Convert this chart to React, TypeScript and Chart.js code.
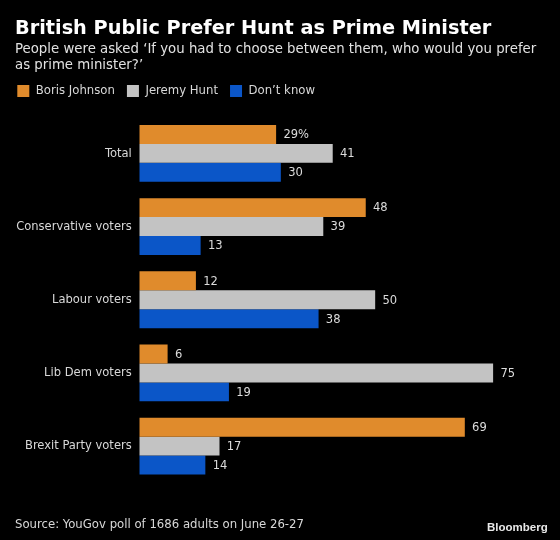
import React, { useEffect, useRef } from 'react';
import { Chart, registerables } from 'chart.js';

Chart.register(...registerables);

const titleText = 'British Public Prefer Hunt as Prime Minister';
const subtitleLines = [
  'People were asked ‘If you had to choose between them, who would you prefer',
  'as prime minister?’',
];
const sourceText = 'Source: YouGov poll of 1686 adults on June 26-27';
const brandText = 'Bloomberg';

const categories = ['Total', 'Conservative voters', 'Labour voters', 'Lib Dem voters', 'Brexit Party voters'];
const seriesNames = ['Boris Johnson', 'Jeremy Hunt', 'Don’t know'];
const borisJohnson = [29, 48, 12, 6, 69];
const jeremyHunt = [41, 39, 50, 75, 17];
const dontKnow = [30, 13, 38, 19, 14];
const seriesColors = ['#E08B2C', '#C3C3C3', '#0B56C8'];
const firstLabelSuffix = '%';

const condensed = "'DejaVu Sans Condensed', 'DejaVu Sans', sans-serif";

export default function App() {
  const ref = useRef<HTMLCanvasElement | null>(null);

  useEffect(() => {
    document.body.style.margin = '0';
    document.body.style.background = '#000';
    const canvas = ref.current;
    if (!canvas) return;

    const valueLabels = {
      id: 'valueLabels',
      afterDatasetsDraw(chart: any) {
        const ctx = chart.ctx;
        ctx.save();
        ctx.font = `12.8px ${condensed}`;
        ctx.fillStyle = '#dcdcdc';
        ctx.textAlign = 'left';
        ctx.textBaseline = 'middle';
        chart.data.datasets.forEach((ds: any, di: number) => {
          const meta = chart.getDatasetMeta(di);
          meta.data.forEach((bar: any, i: number) => {
            const v = ds.data[i];
            const txt = String(v) + (di === 0 && i === 0 ? firstLabelSuffix : '');
            ctx.fillText(txt, bar.x + 7.3, bar.y + 0.5);
          });
        });
        ctx.restore();
      },
    };

    const legendGap = {
      id: 'legendGap',
      beforeLayout(chart: any) {
        const lg = chart.legend;
        if (lg && !lg._gapPatched) {
          const orig = lg.fit;
          lg.fit = function () {
            orig.call(this);
            this.height += 9.3;
          };
          lg._gapPatched = true;
        }
      },
    };

    const chart = new Chart(canvas, {
      type: 'bar',
      data: {
        labels: categories,
        datasets: [
          { label: seriesNames[0], data: borisJohnson, backgroundColor: seriesColors[0] },
          { label: seriesNames[1], data: jeremyHunt, backgroundColor: seriesColors[1] },
          { label: seriesNames[2], data: dontKnow, backgroundColor: seriesColors[2] },
        ],
      },
      options: {
        indexAxis: 'y',
        responsive: false,
        animation: false,
        devicePixelRatio: 1,
        datasets: { bar: { categoryPercentage: 0.777, barPercentage: 1, borderWidth: 0 } },
        layout: { padding: { left: 5.3, right: 43.3, top: 72.5, bottom: 57.3 } },
        plugins: {
          title: { display: false },
          tooltip: { enabled: false },
          legend: {
            display: true,
            position: 'top',
            align: 'start',
            labels: {
              boxWidth: 12,
              boxHeight: 12,
              padding: 12,
              color: '#d8d8d8',
              font: { family: condensed, size: 13 },
            },
          },
        },
        scales: {
          x: {
            display: false,
            min: 0,
            max: 80,
          },
          y: {
            display: true,
            grid: { display: false, drawTicks: false },
            border: { display: false },
            ticks: {
              color: '#d8d8d8',
              padding: 7.6,
              font: { family: condensed, size: 12.8 },
            },
            afterFit(scale: any) {
              scale.width = 134;
            },
          },
        },
      },
      plugins: [valueLabels, legendGap],
    } as any);

    return () => chart.destroy();
  }, []);

  return (
    <div
      style={{
        position: 'fixed',
        left: 0,
        top: 0,
        width: 560,
        height: 540,
        background: '#000',
        overflow: 'hidden',
      }}
    >
      <canvas ref={ref} width={560} height={540} style={{ position: 'absolute', left: 0, top: 0, width: 560, height: 540 }} />
      <div
        style={{
          position: 'absolute',
          left: 15,
          top: 17.8,
          fontFamily: "'DejaVu Sans', sans-serif",
          fontWeight: 'bold',
          fontSize: 19.3,
          lineHeight: '19px',
          color: '#ffffff',
          whiteSpace: 'nowrap',
        }}
      >
        {titleText}
      </div>
      <div
        style={{
          position: 'absolute',
          left: 15,
          top: 41.3,
          fontFamily: "'DejaVu Sans', sans-serif",
          fontSize: 13.3,
          lineHeight: '15.6px',
          color: '#e2e2e2',
          whiteSpace: 'nowrap',
        }}
      >
        {subtitleLines.map((l, i) => (
          <div key={i}>{l}</div>
        ))}
      </div>
      <div
        style={{
          position: 'absolute',
          left: 15,
          top: 516,
          fontFamily: condensed,
          fontSize: 13,
          lineHeight: '15px',
          color: '#d8d8d8',
          whiteSpace: 'nowrap',
        }}
      >
        {sourceText}
      </div>
      <div
        style={{
          position: 'absolute',
          left: 487,
          top: 520.5,
          fontFamily: "'Liberation Sans', Arial, sans-serif",
          fontWeight: 'bold',
          fontSize: 11.5,
          lineHeight: '13px',
          color: '#e8e8e8',
          whiteSpace: 'nowrap',
        }}
      >
        {brandText}
      </div>
    </div>
  );
}
